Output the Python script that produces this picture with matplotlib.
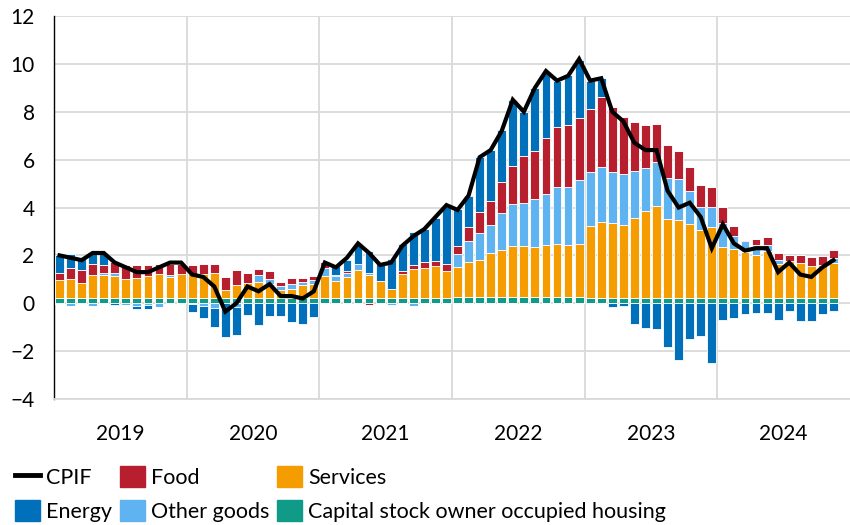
import numpy as np
import matplotlib
matplotlib.use('Agg')
import matplotlib.pyplot as plt
from matplotlib.patches import Patch
from matplotlib.lines import Line2D

plt.rcParams['font.family'] = ['Lato', 'DejaVu Sans']

years = ['2019', '2020', '2021', '2022', '2023', '2024']

# percentage point contributions, monthly Jan 2019 - Nov 2024
housing = [0.22]*12 + [0.22]*12 + [0.24]*12 + [0.26]*12 + [0.24]*12 + [0.24]*11

services = [0.77, 0.81, 0.64, 0.97, 0.97, 0.93, 0.78, 0.84, 0.92, 1.02, 0.88, 0.99,
            0.99, 1.02, 1.04, 0.35, 0.53, 0.63, 0.67, 0.60, 0.32, 0.36, 0.56, 0.60,
            0.88, 0.71, 0.85, 1.13, 0.95, 0.71, 0.34, 1.00, 1.18, 1.25, 1.33, 1.11,
            1.25, 1.46, 1.53, 1.85, 1.97, 2.13, 2.15, 2.11, 2.18, 2.22, 2.18, 2.22,
            2.97, 3.15, 3.11, 3.04, 3.32, 3.63, 3.82, 3.26, 3.22, 3.08, 2.83, 2.94,
            2.10, 2.04, 1.90, 1.76, 1.94, 1.41, 1.51, 1.45, 1.30, 1.37, 1.44]

other_goods = [-0.05, -0.12, -0.05, -0.10, 0.09, 0.11, -0.08, -0.10, -0.08, -0.14, 0.07, 0.00,
               -0.04, -0.11, -0.19, 0.00, -0.15, 0.00, 0.28, 0.18, 0.18, 0.24, 0.11, 0.14,
               0.36, 0.17, 0.17, 0.28, 0.07, 0.00, -0.07, 0.00, -0.12, 0.00, 0.00, 0.00,
               0.56, 0.90, 1.15, 1.18, 1.56, 1.74, 1.79, 1.97, 2.14, 2.36, 2.40, 2.67,
               2.29, 2.29, 2.12, 2.12, 1.98, 1.77, 1.86, 1.74, 1.73, 1.39, 0.94, 0.86,
               1.00, 0.55, 0.46, 0.42, 0.24, 0.14, 0.00, 0.00, 0.00, 0.00, 0.21]

food = [0.29, 0.44, 0.54, 0.43, 0.33, 0.46, 0.58, 0.52, 0.44, 0.41, 0.48, 0.42,
        0.37, 0.39, 0.36, 0.53, 0.62, 0.41, 0.27, 0.35, 0.17, 0.24, 0.18, 0.16,
        0.24, 0.07, 0.07, 0.00, -0.07, 0.00, 0.03, 0.11, 0.16, 0.23, 0.18, 0.30,
        0.32, 0.56, 0.89, 1.00, 1.29, 1.62, 1.94, 2.03, 2.33, 2.51, 2.60, 2.58,
        2.61, 2.92, 2.74, 2.39, 2.04, 1.82, 1.57, 1.37, 1.16, 1.00, 0.95, 0.81,
        0.69, 0.38, 0.05, 0.25, 0.35, 0.32, 0.28, 0.34, 0.39, 0.35, 0.35]

energy = [0.72, 0.57, 0.46, 0.54, 0.50, -0.06, 0.00, -0.15, -0.14, 0.00, 0.00, 0.00,
          -0.33, -0.50, -0.82, -1.43, -1.18, -0.50, -0.92, -0.54, -0.52, -0.78, -0.88, -0.57,
          0.00, 0.37, 0.48, 0.86, 0.93, 0.72, 1.25, 1.14, 1.39, 1.39, 1.82, 2.36,
          1.55, 1.32, 2.29, 2.13, 2.15, 2.74, 1.85, 2.61, 2.76, 1.93, 2.10, 2.43,
          1.19, 0.80, -0.15, -0.13, -0.85, -1.03, -1.07, -1.83, -2.35, -1.49, -1.38, -2.51,
          -0.68, -0.61, -0.43, -0.39, -0.40, -0.71, -0.33, -0.75, -0.75, -0.43, -0.33]

cpif = [2.0, 1.9, 1.8, 2.1, 2.1, 1.7, 1.5, 1.3, 1.3, 1.5, 1.7, 1.7,
        1.2, 1.1, 0.7, -0.35, 0.0, 0.7, 0.5, 0.8, 0.3, 0.3, 0.2, 0.5,
        1.7, 1.5, 1.9, 2.5, 2.1, 1.6, 1.7, 2.4, 2.8, 3.1, 3.6, 4.1,
        3.9, 4.5, 6.1, 6.4, 7.2, 8.5, 8.0, 9.0, 9.7, 9.3, 9.5, 10.2,
        9.3, 9.4, 8.0, 7.6, 6.7, 6.4, 6.4, 4.7, 4.0, 4.2, 3.6, 2.3,
        3.3, 2.5, 2.2, 2.3, 2.3, 1.3, 1.7, 1.2, 1.1, 1.5, 1.8]

series = [('Capital stock owner occupied housing', housing, '#109A88'),
          ('Services', services, '#F59D00'),
          ('Other goods', other_goods, '#5EB3F0'),
          ('Food', food, '#B71F2F'),
          ('Energy', energy, '#0070BA')]

grid_col = '#D9D9D9'
x = np.arange(len(cpif))

fig = plt.figure(figsize=(8.5, 5.25), dpi=100)
ax = fig.add_axes([0.0635, 0.24, 0.9365, 0.7295])

pos_base = np.zeros(len(x))
neg_base = np.zeros(len(x))
for name, vals, col in series:
    v = np.array(vals)
    p = np.where(v > 0, v, 0)
    n = np.where(v < 0, v, 0)
    ax.bar(x, p, 0.8, bottom=pos_base, color=col, edgecolor='white', linewidth=0.6, zorder=3)
    ax.bar(x, n, 0.8, bottom=neg_base, color=col, edgecolor='white', linewidth=0.6, zorder=3)
    pos_base += p
    neg_base += n

ax.plot(x, cpif, color='black', lw=3, zorder=5, solid_joinstyle='miter')

ax.set_xlim(-0.5, 71.5)
ax.set_ylim(-4, 12)
ax.set_yticks(np.arange(-4, 13, 2))
ax.yaxis.grid(True, color=grid_col, lw=1.3, zorder=0)
for b in range(1, 6):
    ax.axvline(12*b - 0.5, color=grid_col, lw=1.3, zorder=0)

ax.set_xticks([12*i + 5.5 for i in range(len(years))])
ax.set_xticklabels(years)
ax.tick_params(axis='x', length=0, pad=18, labelsize=15)
ax.tick_params(axis='y', length=0, pad=14, labelsize=15)

for s in ['top', 'right']:
    ax.spines[s].set_visible(False)
ax.spines['bottom'].set_color(grid_col)
ax.spines['bottom'].set_linewidth(1.3)
ax.spines['left'].set_color('black')
ax.spines['left'].set_linewidth(1.0)

handles = [Line2D([], [], color='black', lw=3.5),
           Patch(color='#0070BA'),
           Patch(color='#B71F2F'),
           Patch(color='#5EB3F0'),
           Patch(color='#F59D00'),
           Patch(color='#109A88')]
labels = ['CPIF', 'Energy', 'Food', 'Other goods', 'Services',
          'Capital stock owner occupied housing']
fig.legend(handles, labels, loc='upper left', bbox_to_anchor=(-0.005, 0.149), ncol=3,
           frameon=False, fontsize=15.5, handlelength=1.16, handleheight=1.12,
           handletextpad=0.28, columnspacing=0.36, labelspacing=0.55, borderpad=0.4)

plt.savefig('out.png', dpi=100)
